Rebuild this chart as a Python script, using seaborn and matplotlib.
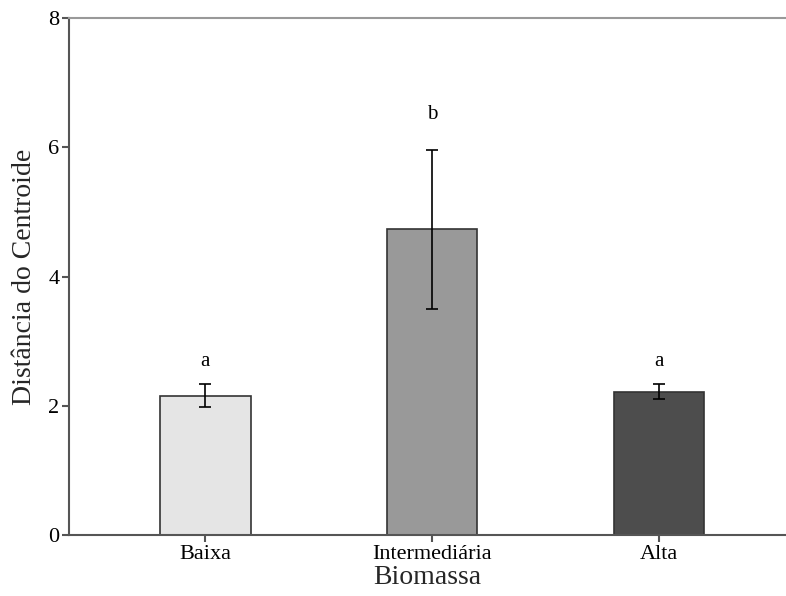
import matplotlib
matplotlib.use("Agg")
import matplotlib.pyplot as plt
import seaborn as sns
import pandas as pd

categories = ["Baixa", "Intermediária", "Alta"]
means = [2.155, 4.735, 2.213]
upper = [2.337, 5.953, 2.337]
lower = [1.985, 3.502, 2.100]
letters = ["a", "b", "a"]
letter_y = [2.68, 6.50, 2.68]
colors = ["#e5e5e5", "#999999", "#4d4d4d"]

sns.set_style("white")
plt.rcParams["font.family"] = ["Liberation Serif", "DejaVu Serif"]

df = pd.DataFrame({"Biomassa": categories, "Dist": means})

fig = plt.figure(figsize=(7.86, 5.96), dpi=100)
ax = fig.add_axes([0.0878, 0.1023, 0.9122, 0.8675])

sns.barplot(data=df, x="Biomassa", y="Dist", hue="Biomassa", palette=colors,
            order=categories, hue_order=categories, legend=False, width=0.4,
            edgecolor="#333333", linewidth=1.2, ax=ax, errorbar=None)

xs = list(range(len(categories)))
yerr = [[m - l for m, l in zip(means, lower)], [u - m for m, u in zip(means, upper)]]
ax.errorbar(xs, means, yerr=yerr, fmt="none", ecolor="black", elinewidth=1.2,
            capsize=4.5, capthick=1.2, zorder=5)

for x, y, t in zip(xs, letter_y, letters):
    ax.text(x, y, t, ha="center", va="center", fontsize=15, color="black")

ax.set_xlim(-0.6, 2.56)
ax.set_ylim(0, 8)
ax.set_yticks([0, 2, 4, 6, 8])
ax.set_xlabel("Biomassa", fontsize=20, labelpad=1)
ax.set_ylabel("Distância do Centroide", fontsize=20, labelpad=8)
ax.tick_params(axis="both", labelsize=16, length=5, width=1.5, color="#555555",
               labelcolor="black", pad=2, bottom=True, left=True)
ax.spines["right"].set_visible(False)
ax.spines["top"].set_color("#999999")
ax.spines["top"].set_linewidth(1.5)
for s in ["left", "bottom"]:
    ax.spines[s].set_color("#555555")
    ax.spines[s].set_linewidth(1.5)

fig.savefig("out.png", dpi=100)
